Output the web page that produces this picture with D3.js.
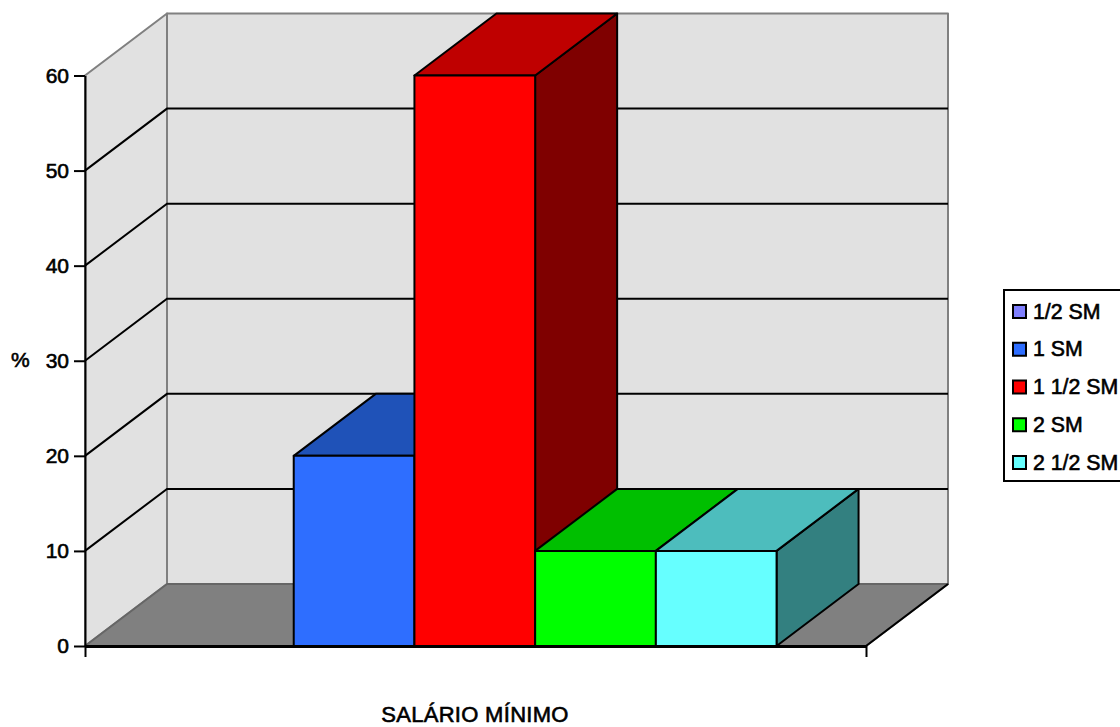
<!DOCTYPE html>
<html>
<head>
<meta charset="utf-8">
<script src="https://cdn.jsdelivr.net/npm/d3@7"></script>
<style>
  html, body { margin: 0; padding: 0; background: #fff; }
  svg { display: block; }
  text { font-family: "Liberation Sans", Arial, sans-serif; fill: #000; }
</style>
</head>
<body>
<div id="chart"></div>
<script>
const categories = ["1/2 SM", "1 SM", "1 1/2 SM", "2 SM", "2 1/2 SM"];
const values = [0, 20, 60, 10, 10];
const frontColors = ["#8080ff", "#2e6eff", "#ff0000", "#00ff00", "#66ffff"];
const topColors = ["#6060bf", "#1f52b8", "#bf0000", "#00bf00", "#4dbdbd"];
const sideColors = ["#404080", "#17377f", "#7f0000", "#008000", "#338080"];
const yTicks = [0, 10, 20, 30, 40, 50, 60];

const width = 1120;
const height = 727;
const plotLeft = 85;
const plotRight = 866;
const plotBottom = 646;
const plotTop = 75.5;
// depth of the 3d box
const dx = 82;
const dy = -62;

const svg = d3.select("#chart").append("svg")
  .attr("width", width)
  .attr("height", height);

const y = d3.scaleLinear().domain([0, 60]).range([plotBottom, plotTop]);
const x = d3.scaleBand()
  .domain(categories)
  .range([plotLeft, plotRight])
  .paddingInner(0)
  .paddingOuter(0.735)
  .align(0.496);

const poly = (pts) => d3.line()(pts) + "Z";

// walls and floor
const walls = svg.append("g")
  .attr("stroke", "#808080")
  .attr("stroke-width", 2)
  .attr("stroke-linejoin", "round");

walls.append("path")
  .attr("fill", "#e1e1e1")
  .attr("d", poly([[plotLeft, y(0)], [plotLeft + dx, y(0) + dy], [plotLeft + dx, y(60) + dy], [plotLeft, y(60)]]));
walls.append("path")
  .attr("fill", "#e1e1e1")
  .attr("d", poly([[plotLeft + dx, y(0) + dy], [plotRight + dx, y(0) + dy], [plotRight + dx, y(60) + dy], [plotLeft + dx, y(60) + dy]]));
walls.append("path")
  .attr("fill", "#808080")
  .attr("stroke", "#666")
  .attr("d", poly([[plotLeft, y(0)], [plotRight, y(0)], [plotRight + dx, y(0) + dy], [plotLeft + dx, y(0) + dy]]));

// gridlines along the side wall and back wall
svg.append("g")
  .attr("fill", "none")
  .attr("stroke", "#000")
  .attr("stroke-width", 2)
  .selectAll("path")
  .data(yTicks.filter((d) => d > 0 && d < 60))
  .join("path")
  .attr("d", (d) => d3.line()([[plotLeft, y(d)], [plotLeft + dx, y(d) + dy], [plotRight + dx, y(d) + dy]]));

// floor front-right edge
svg.append("line")
  .attr("x1", plotRight).attr("y1", plotBottom)
  .attr("x2", plotRight + dx).attr("y2", plotBottom + dy)
  .attr("stroke", "#000")
  .attr("stroke-width", 2);

// bars, drawn left to right so each one covers the previous side face
const bars = svg.append("g")
  .attr("stroke", "#000")
  .attr("stroke-width", 2)
  .attr("stroke-linejoin", "round")
  .selectAll("g")
  .data(categories.map((name, i) => ({ name, value: values[i], i })).filter((d) => d.value > 0))
  .join("g");

bars.append("path")
  .attr("fill", (d) => sideColors[d.i])
  .attr("d", (d) => {
    const x1 = x(d.name) + x.bandwidth();
    return poly([[x1, y(0)], [x1 + dx, y(0) + dy], [x1 + dx, y(d.value) + dy], [x1, y(d.value)]]);
  });
bars.append("path")
  .attr("fill", (d) => topColors[d.i])
  .attr("d", (d) => {
    const x0 = x(d.name);
    const x1 = x0 + x.bandwidth();
    return poly([[x0, y(d.value)], [x1, y(d.value)], [x1 + dx, y(d.value) + dy], [x0 + dx, y(d.value) + dy]]);
  });
bars.append("rect")
  .attr("fill", (d) => frontColors[d.i])
  .attr("x", (d) => x(d.name))
  .attr("y", (d) => y(d.value))
  .attr("width", x.bandwidth())
  .attr("height", (d) => y(0) - y(d.value));

// axes
const yAxis = svg.append("g")
  .attr("transform", `translate(${plotLeft},0)`)
  .call(d3.axisLeft(y).tickValues(yTicks).tickSize(11).tickPadding(5).tickSizeOuter(0));
yAxis.select(".domain").attr("stroke", "#000").attr("stroke-width", 2);
yAxis.selectAll(".tick line").attr("stroke", "#000").attr("stroke-width", 2);
yAxis.selectAll("text").attr("font-size", 21).attr("stroke", "#000").attr("stroke-width", 0.6);
yAxis.attr("font-family", null).attr("font-size", null);

const xAxis = svg.append("g")
  .attr("transform", `translate(0,${plotBottom})`)
  .call(d3.axisBottom(d3.scaleLinear().domain([0, 1]).range([plotLeft, plotRight])).tickValues([0, 1]).tickSize(11).tickSizeOuter(0).tickFormat(""));
xAxis.select(".domain").attr("stroke", "#000").attr("stroke-width", 3);
xAxis.selectAll(".tick line").attr("stroke", "#000").attr("stroke-width", 2);

svg.append("text")
  .attr("x", 11)
  .attr("y", 367)
  .attr("font-size", 21)
  .attr("stroke", "#000")
  .attr("stroke-width", 0.6)
  .text("%");

svg.append("text")
  .attr("x", 475)
  .attr("y", 722)
  .attr("text-anchor", "middle")
  .attr("font-size", 22)
  .attr("letter-spacing", 0.3)
  .attr("stroke", "#000")
  .attr("stroke-width", 0.6)
  .text("SALÁRIO MÍNIMO");

// legend
const legend = svg.append("g");
legend.append("rect")
  .attr("x", 1004)
  .attr("y", 290)
  .attr("width", 130)
  .attr("height", 191)
  .attr("fill", "#fff")
  .attr("stroke", "#000")
  .attr("stroke-width", 2);

const legendY = d3.scalePoint().domain(categories).range([311, 462]);
const legendItems = legend.selectAll("g")
  .data(categories)
  .join("g")
  .attr("transform", (d) => `translate(0,${legendY(d)})`);
legendItems.append("rect")
  .attr("x", 1013)
  .attr("y", -6)
  .attr("width", 13)
  .attr("height", 13)
  .attr("fill", (d, i) => frontColors[i])
  .attr("stroke", "#000")
  .attr("stroke-width", 2);
legendItems.append("text")
  .attr("x", 1033)
  .attr("y", 7.5)
  .attr("font-size", 21.3)
  .attr("stroke", "#000")
  .attr("stroke-width", 0.6)
  .text((d) => d);
</script>
</body>
</html>
